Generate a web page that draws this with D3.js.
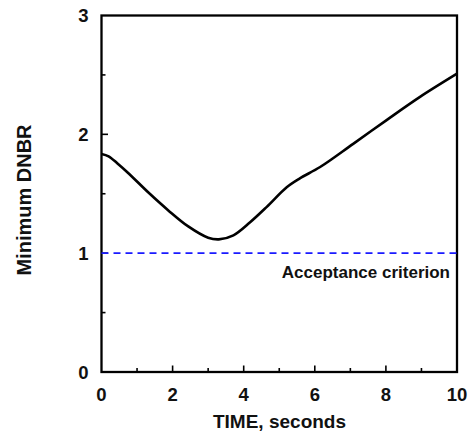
<!DOCTYPE html>
<html><head><meta charset="utf-8">
<script src="https://cdn.jsdelivr.net/npm/d3@7"></script>
<style>body{margin:0;background:#fff}text{font-family:"Liberation Sans",Arial,sans-serif;font-weight:bold;fill:#111}</style>
</head><body><svg id="c" width="468" height="434"></svg>
<script>
const timeS = [0, 0.2, 0.45, 0.75, 1.32, 1.88, 2.44, 3.0, 3.3, 3.71, 4.18, 4.65, 5.21, 5.58, 6.15, 7.08, 8.02, 8.96, 10];
const dnbr  = [1.835, 1.815, 1.755, 1.675, 1.51, 1.36, 1.225, 1.13, 1.116, 1.15, 1.26, 1.39, 1.555, 1.63, 1.725, 1.92, 2.12, 2.315, 2.51];
const criterion = 1;
const xTicks = [0, 2, 4, 6, 8, 10];
const xMinor = [1, 3, 5, 7, 9];
const yTicks = [0, 1, 2, 3];
const yMinor = [0.5, 1.5, 2.5];

const svg = d3.select("#c");
const L = 101.5, R = 457, T = 15.5, B = 372;
const x = d3.scaleLinear().domain([0, 10]).range([L, R]);
const y = d3.scaleLinear().domain([0, 3]).range([B, T]);

// frame
svg.append("rect").attr("x", L).attr("y", T).attr("width", R - L).attr("height", B - T)
  .attr("fill", "none").attr("stroke", "#000").attr("stroke-width", 2.3);

// ticks
const g = svg.append("g");
g.selectAll(".xt").data(xTicks.slice(1, -1)).enter().append("line")
  .attr("x1", d => x(d)).attr("x2", d => x(d)).attr("y1", B).attr("y2", B - 6.5)
  .attr("stroke", "#000").attr("stroke-width", 1.6);
g.selectAll(".xm").data(xMinor).enter().append("line")
  .attr("x1", d => x(d)).attr("x2", d => x(d)).attr("y1", B).attr("y2", B - 4)
  .attr("stroke", "#000").attr("stroke-width", 1.6);
g.selectAll(".yt").data(yTicks.slice(1, -1)).enter().append("line")
  .attr("y1", d => y(d)).attr("y2", d => y(d)).attr("x1", L).attr("x2", L + 6.5)
  .attr("stroke", "#000").attr("stroke-width", 1.6);
g.selectAll(".ym").data(yMinor).enter().append("line")
  .attr("y1", d => y(d)).attr("y2", d => y(d)).attr("x1", L).attr("x2", L + 4)
  .attr("stroke", "#000").attr("stroke-width", 1.6);

// tick labels
svg.selectAll(".xl").data(xTicks).enter().append("text")
  .attr("x", d => x(d)).attr("y", 401).attr("text-anchor", "middle")
  .attr("font-size", 18.5).text(d => d);
svg.selectAll(".yl").data(yTicks).enter().append("text")
  .attr("x", 88.5).attr("y", d => y(d) + 6.6).attr("text-anchor", "end")
  .attr("font-size", 18.5).text(d => d);

// axis titles
svg.append("text").attr("x", 279.5).attr("y", 428.3).attr("text-anchor", "middle")
  .attr("font-size", 19).text("TIME, seconds");
svg.append("text").attr("transform", "translate(31,200) rotate(-90)")
  .attr("text-anchor", "middle").attr("font-size", 20).text("Minimum DNBR");

// criterion line
svg.append("line").attr("x1", L).attr("x2", R).attr("y1", y(criterion)).attr("y2", y(criterion))
  .attr("stroke", "#1a1aff").attr("stroke-width", 1.6).attr("stroke-dasharray", "7,5");
svg.append("text").attr("x", 450).attr("y", 278).attr("text-anchor", "end")
  .attr("font-size", 17).text("Acceptance criterion");

// curve
const line = d3.line().x((d, i) => x(timeS[i])).y(d => y(d)).curve(d3.curveCatmullRom.alpha(0.5));
svg.append("path").attr("d", line(dnbr)).attr("fill", "none")
  .attr("stroke", "#000").attr("stroke-width", 2.6);
</script></body></html>
